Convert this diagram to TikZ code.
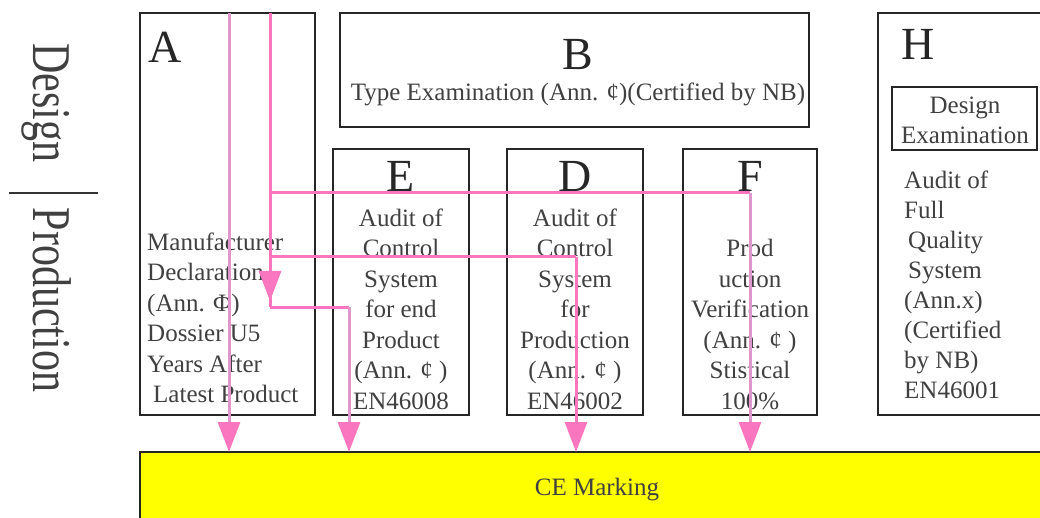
\documentclass[tikz,border=0pt]{standalone}
\usepackage{fontspec}
\setmainfont{Liberation Serif}
\usetikzlibrary{arrows.meta}
\definecolor{pinkA}{RGB}{222,150,204}
\definecolor{pinkB}{RGB}{250,118,190}
\definecolor{ceyellow}{RGB}{255,255,0}
\begin{document}
\begin{tikzpicture}[x=1pt,y=-1pt,
  box/.style={draw=black!85,line width=1.6pt,inner sep=0pt,outer sep=0pt,anchor=north west},
  big/.style={font=\fontsize{46}{46}\selectfont,text=black!85,inner sep=0pt},
  side/.style={font=\fontsize{42}{42}\selectfont,text=black!75,inner sep=0pt},
  body/.style={font=\fontsize{25}{30.5}\selectfont,text=black!75,inner sep=0pt},
  pline/.style={line width=3pt,line join=miter},
  flow/.style={pline,-{Triangle[width=22pt,length=30pt,color=pinkB]}},
]
\useasboundingbox (0,0) rectangle (1040,518);
\clip (0,0) rectangle (1040,518);
\fill[white] (0,0) rectangle (1040,518);

% side labels
\node[side,rotate=-90,yscale=1.3,anchor=base] (dsg) at (33,103) {Design};
\node[side,rotate=-90,yscale=1.3,anchor=base] (prd) at (33,300) {Production};
\coordinate (dl) at (9,193);
\coordinate (dr) at (98,193);
\draw[black!80,line width=1.2pt] (dl) -- (dr);

% boxes
\node[box,minimum width=175pt,minimum height=402pt] (A) at (140,13) {};
\node[box,minimum width=469pt,minimum height=114pt] (B) at (340,13) {};
\node[box,minimum width=136pt,minimum height=266pt] (E) at (333,149) {};
\node[box,minimum width=136pt,minimum height=266pt] (D) at (507,149) {};
\node[box,minimum width=134pt,minimum height=266pt] (F) at (683,149) {};
\node[box,minimum width=175pt,minimum height=402pt] (H) at (878,13) {};
\node[box,line width=1.3pt,minimum width=145pt,minimum height=63pt] (DE) at (892,87) {};
\node[box,fill=ceyellow,minimum width=920pt,minimum height=80pt] (CE) at (140,452) {};

% letters
\node[big,anchor=base west] (lA) at (148,63) {A};
\node[big,anchor=base] (lB) at (578,70) {B};
\node[big,anchor=base] (lE) at (401,192) {E};
\node[big,anchor=base] (lD) at (575,192) {D};
\node[big,anchor=base] (lF) at (750,192) {F};
\node[big,anchor=base west] (lH) at (901,60) {H};

% texts
\node[body,anchor=base] (tB) at (578,101) {Type Examination (Ann. ¢)(Certified by NB)};
\node[body,align=left,anchor=north west] (tA) at (147,{250-21.35}) {\strut Manufacturer\\Declaration\\(Ann. Φ)\\Dossier U5\\Years After\\\hspace*{6pt}Latest Product};
\node[body,align=center,anchor=north] (tE) at (401,{226-21.35}) {\strut Audit of\\Control\\System\\for end\\Product\\(Ann. ¢ )\\EN46008};
\node[body,align=center,anchor=north] (tD) at (575,{226-21.35}) {\strut Audit of\\Control\\System\\for\\Production\\(Ann. ¢ )\\EN46002};
\node[body,align=center,anchor=north] (tF) at (750,{256.5-21.35}) {\strut Prod\\uction\\Verification\\(Ann. ¢ )\\Stistical\\100\%};
\node[body,align=center,anchor=north] (tDE) at (965,{113-21.35}) {\strut Design\\Examination};
\node[body,font=\fontsize{25}{30}\selectfont,align=left,anchor=north west] (tH) at (904,{188-21}) {\strut Audit of\\Full\\\hspace*{4pt}Quality\\\hspace*{4pt}System\\(Ann.x)\\(Certified\\by NB)\\EN46001};
\node[body,anchor=base] (tCE) at (597,495) {CE Marking};

% connectors
\coordinate (s1) at (229,13);
\coordinate (s2) at (270,13);
\coordinate (c1) at (270,193);
\coordinate (c2) at (270,257);
\coordinate (c3) at (270,307);
\coordinate (xE) at (349,0);
\coordinate (xD) at (576,0);
\coordinate (xF) at (750,0);

\draw[flow,pinkA] (s1) -- (s1 |- CE.north);
\draw[pline,pinkB] (s2) -- (c3);
\draw[flow,pinkB] (s2) -- (270,301);
\draw[pline,pinkB] (c1) -- (c1 -| xF);
\draw[flow,pinkA] (c1 -| xF) -- (xF |- CE.north);
\draw[pline,pinkB] (c2) -- (c2 -| xD);
\draw[flow,pinkB] (c2 -| xD) -- (xD |- CE.north);
\draw[pline,pinkB] (c3) -- (c3 -| xE);
\draw[flow,pinkA] (c3 -| xE) -- (xE |- CE.north);
\end{tikzpicture}
\end{document}
